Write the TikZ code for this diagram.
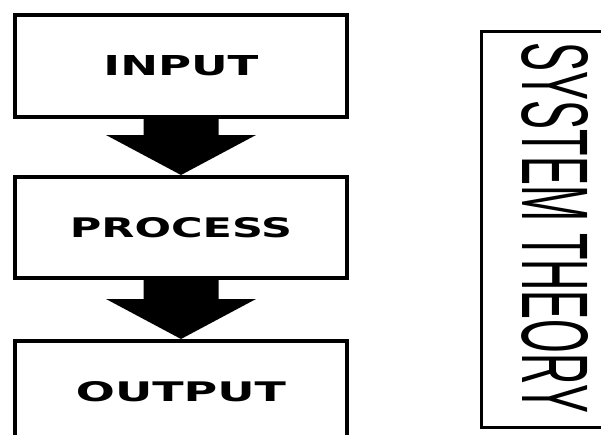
\documentclass[tikz,border=0pt]{standalone}
\usepackage{graphicx}
\usepackage{fontspec}
\newfontfamily\labelfont{DejaVu Sans}
\newfontfamily\titlefont{Liberation Sans}
\usetikzlibrary{calc}
% set a word in wide bold caps, stretched to a given width and cap height
\newcommand{\stagelabel}[2]{\resizebox{#1}{20pt}{\labelfont\bfseries #2}}
\begin{document}
\begin{tikzpicture}[x=1pt,y=-1pt,
  stage/.style={draw, line width=4pt, minimum width=332pt, minimum height=102pt,
    inner sep=0pt},
  blockarrow/.style={to path={
    let \p1=(\tikztostart.south), \p2=(\tikztotarget.north) in
    (\x1-37.5pt,\y1) -- (\x1+37.5pt,\y1) -- (\x1+37.5pt,\y2+40pt)
    -- (\x1+75pt,\y2+40pt) -- (\x2,\y2) -- (\x1-75pt,\y2+40pt)
    -- (\x1-37.5pt,\y2+40pt) -- cycle}}
]
\useasboundingbox (0,0) rectangle (601,434);
\clip (0,0) rectangle (601,434);
\fill[white] (0,0) rectangle (601,434);

% the three stages
\node[stage] (in)   at (181,66)    {\stagelabel{155pt}{INPUT}};
\node[stage, minimum height=101pt] (proc) at (181,227.5) {\stagelabel{222pt}{PROCESS}};
\node[stage] (out)  at (181,392)   {\stagelabel{210pt}{OUTPUT}};

% block arrows between the stages
\fill (in) to[blockarrow] (proc);
\fill (proc) to[blockarrow] (out);

% framed title on the right
\node[draw, line width=3pt, minimum width=150pt, minimum height=396pt, inner sep=0pt] (frame) at (556,229) {};
\node[rotate=-90, inner sep=0pt] (title) at (555,228)
  {\resizebox{370pt}{66pt}{\titlefont SYSTEM THEORY}};
\end{tikzpicture}
\end{document}
